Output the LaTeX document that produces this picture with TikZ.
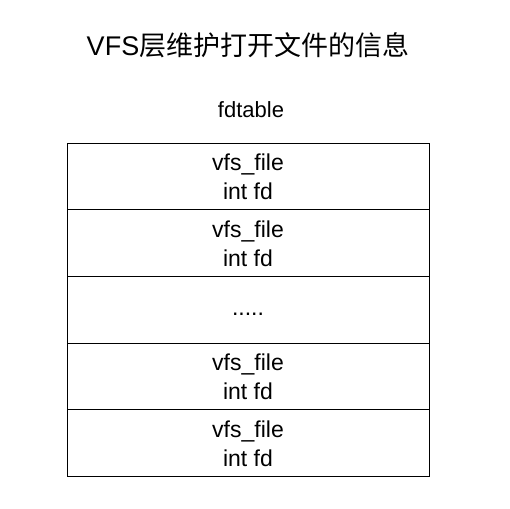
\documentclass[tikz,border=0pt]{standalone}
\usepackage{fontspec}
\setmainfont{Liberation Sans}
\newfontfamily\cjk{Noto Sans CJK SC}
\usetikzlibrary{positioning}

\begin{document}
\begin{tikzpicture}[x=1pt,y=-1pt]
  \tikzset{slot/.style={draw,line width=1pt,outer sep=0pt,minimum width=362pt,minimum height=66.67pt,
                        inner sep=0pt,align=center,font=\fontsize{23}{29}\selectfont}}
  \useasboundingbox (0,0) rectangle (510,508);
  \node[anchor=base,font=\fontsize{27}{32}\selectfont] (title) at (248,56) {VFS{\cjk 层维护打开文件的信息}};
  \node[anchor=base,font=\fontsize{22}{26}\selectfont] (caption) at (251,117) {fdtable};
  \node[slot,anchor=north west] (fd0) at (67,143.3) {vfs\_file\\int fd};
  \node[slot,below=0pt of fd0] (fd1) {vfs\_file\\int fd};
  \node[slot,below=0pt of fd1] (dots) {\strut.....};
  \node[slot,below=0pt of dots] (fd2) {vfs\_file\\int fd};
  \node[slot,below=0pt of fd2] (fd3) {vfs\_file\\int fd};
\end{tikzpicture}
\end{document}
